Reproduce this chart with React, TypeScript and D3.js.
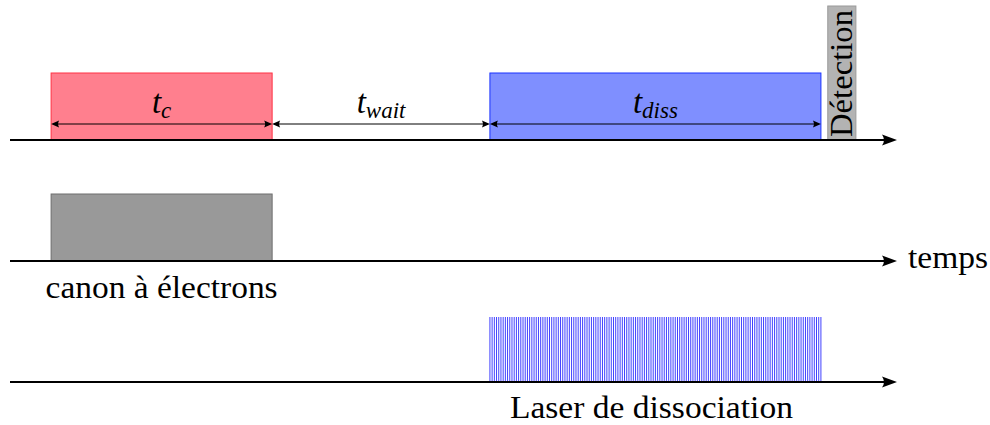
import React from "react";
import * as d3 from "d3";

// ---- data ----
const rows = ["cycle", "gun", "laser"];
const rowLabels = ["", "canon à électrons", "Laser de dissociation"];
const phaseNames = ["c", "wait", "diss"];
const phaseStart = [11.4, 72.7, 133.1];
const phaseEnd = [72.7, 133.1, 224.9];
const phaseFill = ["#ff7f8e", "none", "#7f8fff"];
const phaseStroke = ["#ff3344", "none", "#1a33ff"];
const gunWindow = [11.4, 72.7];
const laserWindow = [133.1, 224.9];
const pulseCount = 150;
const detectionWindow = [226.8, 234.6];
const detectionLabel = "Détection";
const axisLabel = "temps";
const timeDomain = [0, 246];

const W = 990;
const H = 425;
const SERIF = "Liberation Serif, serif";

export default function App() {
  const x = d3.scaleLinear().domain(timeDomain).range([10, 897]);
  const y = d3.scalePoint<string>().domain(rows).range([140, 382]);
  const boxH = 67;
  const arrowY = y("cycle")! - 16;
  const pulseTimes = d3.range(pulseCount + 1).map(
    (i) => laserWindow[0] + ((laserWindow[1] - laserWindow[0]) * i) / pulseCount
  );

  const axisHead = (tipX: number, yy: number) =>
    `M${tipX},${yy} L${tipX - 15},${yy - 5.5} Q${tipX - 11},${yy} ${tipX - 15},${yy + 5.5} Z`;
  const smallHead = (tipX: number, yy: number, dir: number) =>
    `M${tipX},${yy} L${tipX - dir * 8},${yy - 3.5} Q${tipX - dir * 6},${yy} ${tipX - dir * 8},${yy + 3.5} Z`;

  const serif = { fontFamily: SERIF };
  const gunLen = 232;
  const laserLen = 283;
  const gunMid = (x(gunWindow[0]) + x(gunWindow[1])) / 2;
  const laserMid = (x(laserWindow[0]) + x(laserWindow[1])) / 2 - 4;

  return (
    <svg width={W} height={H} style={{ position: "absolute", left: 0, top: 0, background: "#fff" }}>
      {/* phase boxes */}
      {phaseNames.map((p, i) =>
        phaseFill[i] === "none" ? null : (
          <rect
            key={"pb" + i}
            x={x(phaseStart[i])}
            y={y("cycle")! - boxH}
            width={x(phaseEnd[i]) - x(phaseStart[i])}
            height={boxH}
            fill={phaseFill[i]}
            stroke={phaseStroke[i]}
            strokeWidth={1}
          />
        )
      )}
      {/* detection box */}
      <rect
        x={x(detectionWindow[0])}
        y={6}
        width={x(detectionWindow[1]) - x(detectionWindow[0])}
        height={y("cycle")! - 6}
        fill="#b3b3b3"
        stroke="#9a9a9a"
        strokeWidth={1}
      />
      <text
        transform={`translate(${(x(detectionWindow[0]) + x(detectionWindow[1])) / 2 + 10},${y("cycle")! - 3}) rotate(-90)`}
        style={serif}
        fontSize={31}
        textLength={127}
        lengthAdjust="spacingAndGlyphs"
        fill="#000"
      >
        {detectionLabel}
      </text>

      {/* gun box */}
      <rect
        x={x(gunWindow[0])}
        y={y("gun")! - boxH}
        width={x(gunWindow[1]) - x(gunWindow[0])}
        height={boxH}
        fill="#999999"
        stroke="#6e6e6e"
        strokeWidth={1}
      />

      {/* laser pulses */}
      {pulseTimes.map((t, i) => (
        <line
          key={"pl" + i}
          x1={x(t)}
          x2={x(t)}
          y1={y("laser")! - 65}
          y2={y("laser")!}
          stroke="#0000ff"
          strokeWidth={0.75}
        />
      ))}

      {/* duration arrows */}
      {phaseNames.map((p, i) => {
        const a = x(phaseStart[i]);
        const b = x(phaseEnd[i]);
        return (
          <g key={"ar" + i}>
            <line x1={a + 2} x2={b - 2} y1={arrowY} y2={arrowY} stroke="#000" strokeWidth={1} />
            <path d={smallHead(a, arrowY, -1)} fill="#000" />
            <path d={smallHead(b, arrowY, 1)} fill="#000" />
            <text x={(a + b) / 2} y={113} textAnchor="middle" style={serif} fontStyle="italic" fill="#000">
              <tspan fontSize={33}>t</tspan>
              <tspan fontSize={23} dy={5}>{p}</tspan>
            </text>
          </g>
        );
      })}

      {/* axes */}
      {rows.map((r) => (
        <g key={"ax" + r}>
          <line x1={10} x2={887} y1={y(r)!} y2={y(r)!} stroke="#000" strokeWidth={2} />
          <path d={axisHead(897, y(r)!)} fill="#000" />
        </g>
      ))}

      {/* labels */}
      <text x={908} y={268} style={serif} fontSize={31} textLength={80} lengthAdjust="spacingAndGlyphs">
        {axisLabel}
      </text>
      <text
        x={gunMid - gunLen / 2}
        y={298}
        style={serif}
        fontSize={31}
        textLength={gunLen}
        lengthAdjust="spacingAndGlyphs"
      >
        {rowLabels[1]}
      </text>
      <text
        x={laserMid - laserLen / 2}
        y={418}
        style={serif}
        fontSize={31}
        textLength={laserLen}
        lengthAdjust="spacingAndGlyphs"
      >
        {rowLabels[2]}
      </text>
    </svg>
  );
}
